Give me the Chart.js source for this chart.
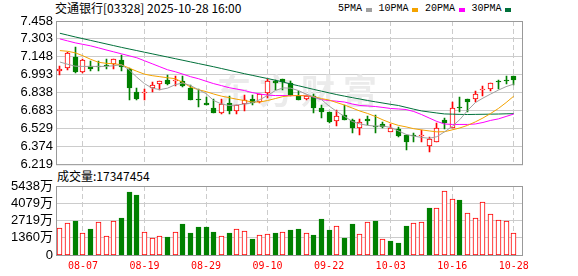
<!DOCTYPE html>
<html>
<head>
<meta charset="utf-8">
<script src="https://cdn.jsdelivr.net/npm/chart.js@4.4.0/dist/chart.umd.min.js"></script>
<style>
  body { margin: 0; background: #fff; width: 578px; height: 276px; overflow: hidden; position: relative; }
  canvas { position: absolute; left: 0; }
  #price { top: 0; }
  #vol { top: 168px; }
  #title { position: absolute; left: 55px; top: 1px; font: 12px 'Noto Sans CJK SC', sans-serif; line-height: 14px; color: #000; white-space: nowrap; }
  #legend { position: absolute; left: 338px; top: 3px; font: 10px 'Liberation Mono', monospace; line-height: 12px; color: #000; display: flex; align-items: center; white-space: nowrap; }
  #legend .sq { display: inline-block; width: 6px; height: 4px; margin: 1px 7px 0 3.5px; }
  #volLabel { position: absolute; left: 57px; top: 169px; font: 12px 'Noto Sans CJK SC', sans-serif; line-height: 14px; color: #000; white-space: nowrap; }
</style>
</head>
<body>
<div id="title">交通银行[03328] 2025-10-28 16:00</div>
<div id="legend"></div>
<div id="volLabel">成交量:17347454</div>
<canvas id="price" width="578" height="175"></canvas>
<canvas id="vol" width="578" height="108"></canvas>
<script>
// trading days 08-04 .. 10-28
const dates = ['08-04','08-05','08-06','08-07','08-08','08-11','08-12','08-13','08-14','08-15',
  '08-18','08-19','08-20','08-21','08-22','08-25','08-26','08-27','08-28','08-29',
  '09-01','09-02','09-03','09-04','09-05','09-08','09-09','09-10','09-11','09-12',
  '09-15','09-16','09-17','09-18','09-19','09-22','09-23','09-24','09-25','09-26',
  '09-29','09-30','10-02','10-03','10-06','10-08','10-09','10-10','10-13','10-14',
  '10-15','10-16','10-17','10-20','10-21','10-22','10-23','10-24','10-27','10-28'];
const tickIdx = [3, 11, 19, 27, 35, 43, 51, 59];

const opens = [7.022,7.048,7.148,7.019,7.071,7.071,7.071,7.082,7.122,7.045,
  6.847,6.839,6.882,6.910,6.950,6.936,6.936,6.879,6.778,6.752,
  6.709,6.663,6.750,6.681,6.738,6.784,6.761,6.836,6.939,6.956,
  6.922,6.807,6.784,6.807,6.707,6.669,6.589,6.641,6.598,6.529,
  6.606,6.546,6.563,6.500,6.520,6.469,6.469,6.460,6.377,6.414,
  6.598,6.535,6.712,6.784,6.784,6.859,6.870,6.933,6.950,6.985];
const highs = [7.065,7.194,7.231,7.128,7.111,7.108,7.131,7.128,7.168,7.051,
  6.882,6.873,6.933,6.942,6.990,6.985,6.985,6.907,6.870,6.801,
  6.784,6.784,6.807,6.730,6.818,6.821,6.830,6.956,6.950,6.956,
  6.936,6.850,6.818,6.830,6.735,6.669,6.692,6.727,6.612,6.612,
  6.635,6.646,6.583,6.569,6.543,6.469,6.486,6.514,6.457,6.572,
  6.615,6.755,6.801,6.784,6.850,6.899,6.922,6.950,6.985,6.985];
const lows = [6.988,7.031,7.010,7.008,7.022,7.022,7.045,7.045,7.022,6.773,
  6.773,6.778,6.847,6.864,6.905,6.893,6.887,6.773,6.713,6.727,
  6.663,6.652,6.652,6.652,6.678,6.727,6.750,6.790,6.859,6.864,
  6.807,6.773,6.778,6.663,6.618,6.575,6.549,6.598,6.491,6.471,
  6.555,6.486,6.535,6.500,6.457,6.342,6.411,6.411,6.325,6.414,
  6.520,6.535,6.669,6.669,6.755,6.813,6.850,6.873,6.916,6.907];
const closes = [7.042,7.180,7.013,7.120,7.045,7.056,7.065,7.128,7.059,6.876,
  6.781,6.844,6.905,6.942,6.910,6.942,6.893,6.778,6.773,6.732,
  6.663,6.741,6.681,6.730,6.778,6.750,6.830,6.936,6.925,6.930,
  6.821,6.778,6.807,6.707,6.669,6.583,6.635,6.600,6.529,6.583,
  6.592,6.537,6.543,6.529,6.463,6.411,6.463,6.466,6.434,6.535,
  6.572,6.707,6.705,6.755,6.830,6.864,6.922,6.927,6.942,6.950];

const ma5 = [7.103,7.084,7.067,7.065,7.065,7.065,7.065,7.071,7.079,7.036,
  6.972,6.916,6.877,6.864,6.877,6.907,6.922,6.899,6.864,6.830,
  6.770,6.740,6.727,6.731,6.740,6.750,6.778,6.813,6.856,6.879,
  6.877,6.856,6.826,6.800,6.778,6.722,6.675,6.632,6.589,6.567,
  6.555,6.549,6.549,6.537,6.507,6.477,6.462,6.451,6.443,6.457,
  6.499,6.546,6.606,6.684,6.752,6.791,6.826,6.860,6.890,6.912];
const ma10 = [7.202,7.196,7.183,7.157,7.127,7.101,7.092,7.088,7.079,7.051,
  7.023,6.998,6.985,6.976,6.967,6.959,6.926,6.886,6.864,6.847,
  6.826,6.808,6.795,6.781,6.770,6.757,6.757,6.770,6.787,6.804,
  6.811,6.813,6.811,6.804,6.787,6.774,6.752,6.731,6.705,6.679,
  6.658,6.632,6.602,6.576,6.555,6.542,6.526,6.516,6.507,6.499,
  6.500,6.516,6.533,6.555,6.585,6.619,6.658,6.701,6.752,6.808];
const ma20 = [7.303,7.286,7.269,7.256,7.243,7.226,7.208,7.191,7.174,7.157,
  7.140,7.114,7.088,7.062,7.036,7.019,6.998,6.976,6.959,6.937,
  6.916,6.899,6.881,6.869,6.856,6.839,6.826,6.817,6.813,6.813,
  6.813,6.813,6.813,6.800,6.778,6.770,6.764,6.757,6.740,6.727,
  6.723,6.718,6.710,6.701,6.697,6.692,6.675,6.649,6.619,6.589,
  6.567,6.563,6.563,6.563,6.567,6.580,6.598,6.611,6.632,6.653];
const ma30 = [7.352,7.336,7.320,7.305,7.290,7.275,7.260,7.245,7.230,7.216,
  7.202,7.188,7.174,7.160,7.146,7.132,7.118,7.104,7.090,7.076,
  7.062,7.047,7.032,7.017,7.002,6.988,6.974,6.960,6.946,6.930,
  6.913,6.898,6.882,6.866,6.851,6.836,6.821,6.808,6.795,6.783,
  6.770,6.759,6.748,6.737,6.727,6.711,6.695,6.680,6.671,6.662,
  6.654,6.652,6.650,6.649,6.650,6.651,6.652,6.653,6.655,6.656];

// volume in 万
const volumes = [2125,2523,2706,1727,2046,2603,1536,2682,2921,4935,
  4696,1807,1329,1536,1409,1807,2444,1751,2205,2229,
  1831,1488,1751,2046,1910,1274,1568,1648,1751,1831,
  1990,2070,1751,1592,2866,1990,2285,1353,2468,1672,
  2627,2706,1260,1114,955,2308,2547,2627,3741,3741,
  5070,4378,4298,3343,2921,4195,3264,2762,2682,1734.7];

const priceTicks = ['6.219','6.374','6.529','6.683','6.838','6.993','7.148','7.303','7.458'];
const volTicks = ['0','1360万','2719万','4079万','5438万'];
const yMin = 6.219, yMax = 7.458;
const volMax = 5438;

const maNames = ['5PMA', '10PMA', '20PMA', '30PMA'];
const maSeries = [ma5, ma10, ma20, ma30];
const maColors = ['#a0a0a0', '#f4a300', '#ff00ff', '#00703a'];

const UP = '#ff0000';
const DOWN = '#008000';
const GRID = '#cccccc';
const FRAME = '#999999';

// legend
const legend = document.getElementById('legend');
maNames.forEach((name, k) => {
    const t = document.createElement('span');
    t.textContent = name;
    const sq = document.createElement('span');
    sq.className = 'sq';
    sq.style.background = maColors[k];
    legend.appendChild(t);
    legend.appendChild(sq);
});

const isUp = closes.map((c, i) => c >= opens[i]);
const candleColor = isUp.map(u => u ? UP : DOWN);
const volUp = closes.map((c, i) => i === 0 || c >= closes[i - 1]);

// snap bars onto whole pixels so the thin candles stay crisp
const snapBars = {
    id: 'snapBars',
    afterDatasetsUpdate(chart) {
        chart.getSortedVisibleDatasetMetas().forEach(meta => {
            if (meta.type !== 'bar') return;
            meta.data.forEach(el => {
                el.x = Math.round(el.x - 0.5) + 0.5;
                el.y = Math.round(el.y);
                el.base = Math.round(el.base);
                if (Math.abs(el.base - el.y) < 1) el.base = el.y + 1;
            });
        });
    }
};

const framePlugin = {
    id: 'frame',
    afterDatasetsDraw(chart) {
        const { ctx, chartArea: a } = chart;
        ctx.save();
        ctx.strokeStyle = FRAME;
        ctx.lineWidth = 1;
        ctx.strokeRect(a.left + 0.5, a.top + 0.5, a.right - a.left - 1, a.bottom - a.top);
        ctx.restore();
    }
};

const watermark = {
    id: 'watermark',
    beforeDatasetsDraw(chart) {
        const ctx = chart.ctx;
        ctx.save();
        ctx.font = 'bold 34px "Noto Sans CJK SC"';
        ctx.fillStyle = '#ebebeb';
        ctx.textBaseline = 'middle';
        ctx.textAlign = 'center';
        '东方财富'.split('').forEach((ch, k) => ctx.fillText(ch, 234 + k * 42, 91));
        ctx.restore();
    }
};

function xScale(showLabels) {
    return {
        type: 'linear',
        min: -0.5,
        max: 60.2,
        offset: false,
        afterBuildTicks: s => { s.ticks = tickIdx.map(v => ({ value: v })); },
        afterFit: s => { s.height = showLabels ? 21 : 0; },
        grid: { color: GRID, drawTicks: false, offset: false },
        border: { display: false, dash: [5, 3] },
        ticks: {
            display: showLabels,
            autoSkip: false,
            maxRotation: 0,
            padding: 5,
            color: '#ff0000',
            font: { family: 'DejaVu Sans Mono', size: 10 },
            callback: v => dates[v]
        }
    };
}

function yScale(min, max, labels) {
    return {
        min: min,
        max: max,
        afterBuildTicks: s => {
            s.ticks = labels.map((_, k) => ({ value: min + k * (max - min) / (labels.length - 1) }));
        },
        afterFit: s => { s.width = 56; },
        grid: { color: GRID, drawTicks: false },
        border: { display: false },
        ticks: {
            autoSkip: false,
            padding: 3,
            color: '#000',
            font: { family: "'Liberation Sans', 'Noto Sans CJK SC'", size: 13 },
            callback: (v, k) => labels[k]
        }
    };
}

const maDatasets = maSeries.map((s, k) => ({
    type: 'line',
    data: s.map((v, i) => ({ x: i, y: v })),
    borderColor: maColors[k],
    borderWidth: 1,
    pointRadius: 0,
    fill: false,
    tension: 0,
    order: 0
}));

new Chart(document.getElementById('price'), {
    type: 'bar',
    data: {
        datasets: [
            ...maDatasets,
            {
                type: 'bar',
                data: opens.map((o, i) => ({ x: i, y: [o, closes[i]] })),
                backgroundColor: isUp.map(u => u ? '#ffffff' : DOWN),
                borderColor: candleColor,
                borderWidth: 1,
                borderSkipped: false,
                grouped: false,
                barThickness: 5,
                maxBarThickness: 5,
                minBarLength: 1,
                order: 1
            },
            {
                type: 'bar',
                data: lows.map((l, i) => ({ x: i, y: [l, highs[i]] })),
                backgroundColor: candleColor,
                borderWidth: 0,
                grouped: false,
                barThickness: 1,
                maxBarThickness: 1,
                order: 2
            }
        ]
    },
    options: {
        responsive: false,
        animation: false,
        events: [],
        layout: { padding: { left: 0, right: 55, top: 21, bottom: 10 } },
        plugins: { legend: { display: false }, tooltip: { enabled: false } },
        scales: {
            x: xScale(false),
            y: yScale(yMin, yMax, priceTicks)
        }
    },
    plugins: [snapBars, watermark, framePlugin]
});

new Chart(document.getElementById('vol'), {
    type: 'bar',
    data: {
        datasets: [{
            data: volumes.map((v, i) => ({ x: i, y: v })),
            backgroundColor: volUp.map(u => u ? '#ffffff' : DOWN),
            borderColor: volUp.map(u => u ? UP : DOWN),
            borderWidth: 1,
            borderSkipped: false,
            grouped: false,
            barThickness: 5,
            maxBarThickness: 5
        }]
    },
    options: {
        responsive: false,
        animation: false,
        events: [],
        layout: { padding: { left: 0, right: 55, top: 18, bottom: 0 } },
        plugins: { legend: { display: false }, tooltip: { enabled: false } },
        scales: {
            x: xScale(true),
            y: yScale(0, volMax, volTicks)
        }
    },
    plugins: [snapBars, framePlugin]
});
</script>
</body>
</html>
